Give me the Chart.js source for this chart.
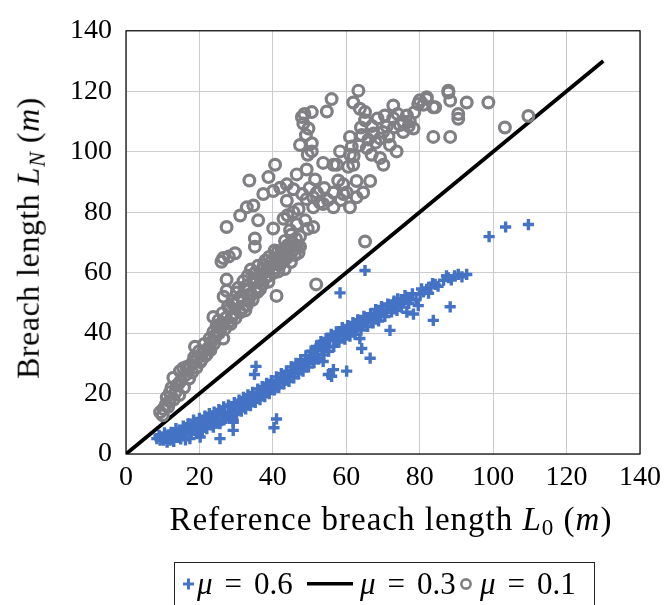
<!DOCTYPE html>
<html>
<head>
<meta charset="utf-8">
<script src="https://cdn.jsdelivr.net/npm/chart.js@4.4.1/dist/chart.umd.min.js"></script>
<style>
  body { margin: 0; width: 670px; height: 605px; overflow: hidden; background: #fff; font-family: "Liberation Serif", serif; color: #000; }
  #wrap { position: relative; width: 670px; height: 605px; }
  #chart { position: absolute; left: 0; top: 0; }
  .ytitle { position: absolute; left: 30px; top: 238px; transform: translate(-50%, -50%) rotate(-90deg); white-space: nowrap; font-size: 32px; letter-spacing: 0.5px; }
  .xtitle { position: absolute; left: 391px; top: 521px; transform: translate(-50%, -50%); white-space: nowrap; font-size: 33px; letter-spacing: 1px; }
  .ytitle sub, .xtitle sub { font-size: 0.7em; vertical-align: -0.25em; }
  .legend { position: absolute; left: 174px; top: 562px; width: 421px; height: 70px; border: 1.3px solid #222; box-sizing: border-box; }
  .legend .item { position: absolute; top: 21px; transform: translateY(-50%); white-space: nowrap; font-size: 31px; }
  .legend .eq { margin: 0 12px; }
  .legend svg { position: absolute; top: 21px; transform: translateY(-50%); }
</style>
</head>
<body>
<div id="wrap">
  <canvas id="chart" width="670" height="605"></canvas>
  <div class="ytitle">Breach length <i>L</i><sub><i>N</i></sub> (<i>m</i>)</div>
  <div class="xtitle">Reference breach length <i>L</i><sub>0</sub> (<i>m</i>)</div>
  <div class="legend">
    <svg style="left:8px" width="12" height="12"><rect x="0" y="4.5" width="11" height="3" fill="#4472c4"/><rect x="4" y="0.5" width="3" height="11" fill="#4472c4"/></svg>
    <span class="item" style="left:22px"><i>μ</i><span class="eq">=</span>0.6</span>
    <svg style="left:132px" width="46" height="6"><rect x="0" y="1" width="46" height="3.5" fill="#000"/></svg>
    <span class="item" style="left:185px"><i>μ</i><span class="eq">=</span>0.3</span>
    <svg style="left:284px" width="14" height="14"><circle cx="7" cy="7" r="4.6" fill="none" stroke="#808084" stroke-width="2.6"/></svg>
    <span class="item" style="left:305px"><i>μ</i><span class="eq">=</span>0.1</span>
  </div>
</div>
<script>
// axis ticks (both axes)
const tickValues = [0, 20, 40, 60, 80, 100, 120, 140];

// mu = 0.3 reference line (1:1)
const lineX = [0, 130];
const lineY = [0, 130];

// mu = 0.1 (grey circles), [L0, LN]
const mu01Points = [
  [9.3,13.8],[10.2,14.9],[10.8,16.2],[11.1,18.7],[11.8,17.5],[12.4,21.9],[12.9,25.2],[13.5,20.5],[14.2,23.1],[14.7,27.4],
  [15.6,28.4],[16.1,26.0],[16.8,27.9],[17.5,29.3],[18.3,30.6],[18.8,35.5],[19.5,31.8],[20.2,30.4],[21.0,33.9],[21.6,32.5],
  [22.4,35.0],[23.3,37.1],[23.8,40.4],[24.3,38.6],[24.7,42.5],[23.8,45.3],[25.4,40.1],[26.5,38.2],[26.0,43.0],[27.0,41.5],
  [27.9,43.6],[28.3,48.0],[28.8,45.2],[29.5,46.5],[30.2,53.4],[31.1,46.9],[31.8,48.3],[32.9,49.1],[33.4,50.6],[33.8,52.3],
  [34.5,51.0],[35.1,56.7],[35.1,59.9],[35.8,53.6],[36.5,54.5],[37.2,56.1],[38.3,58.8],[38.8,57.0],[39.2,62.1],[40.1,59.9],
  [40.6,61.5],[41.0,52.3],[41.5,60.4],[42.0,62.6],[42.6,63.8],[43.2,61.2],[43.8,64.9],[44.3,66.3],[44.9,63.5],[45.5,67.4],
  [46.0,65.8],[46.6,68.9],[47.4,68.6],[45.2,70.1],[44.0,69.0],[42.9,65.4],[41.3,66.8],[27.4,54.0],[27.4,57.7],[26.6,52.0],
  [29.0,50.8],[30.6,55.0],[32.0,57.2],[33.2,59.0],[34.0,61.0],[36.0,62.3],[37.0,60.8],[38.0,64.0],[39.0,65.2],[40.5,67.3],
  [29.7,66.4],[26.5,64.8],[26.0,63.6],[28.0,65.3],[35.1,68.6],[35.1,71.3],[27.4,75.1],[51.8,56.1],[65.1,70.3],
  [10.0,12.8],[11.5,15.6],[12.0,20.4],[13.0,18.0],[13.8,22.6],[14.5,19.5],[15.0,24.3],[15.8,22.0],[16.5,28.8],[17.2,25.0],
  [18.0,27.0],[18.6,32.0],[19.2,28.6],[19.9,34.0],[20.6,31.2],[21.3,36.4],[22.0,33.0],[22.8,38.2],[23.0,34.4],[24.0,36.5],
  [24.6,39.8],[25.2,44.2],[25.8,41.6],[26.3,46.6],[27.2,45.0],[27.8,48.8],[28.5,43.0],[29.2,49.6],[29.8,45.0],[30.5,51.0],
  [31.4,52.2],[32.3,54.6],[32.5,47.5],[33.0,55.8],[34.0,53.0],[34.8,57.8],[35.5,55.0],[36.2,59.0],[36.8,57.2],[37.5,62.5],
  [38.2,60.5],[39.0,59.0],[39.6,63.6],[40.3,62.8],[41.0,64.0],[41.8,65.5],[42.4,67.3],[43.0,64.2],[43.6,68.0],[44.6,67.8],
  [45.8,69.0],[46.3,71.2],[47.0,66.6],[43.3,70.5],[45.0,72.5],
  [31.1,78.9],[32.9,81.6],[34.7,82.2],[36.0,77.3],[37.4,86.0],[40.1,87.0],[42.0,88.1],[33.6,90.5],[38.8,91.6],[40.6,95.7],
  [40.1,74.6],[42.9,77.8],[44.7,74.0],[45.6,80.0],[43.8,83.8],[43.8,89.2],[45.6,87.6],[46.5,92.5],[47.4,102.2],[47.9,111.5],
  [48.3,109.3],[49.7,107.7],[50.6,113.1],[50.6,102.8],[50.6,100.1],[49.2,94.1],[49.2,84.3],[48.8,77.3],[51.0,75.1],[47.4,72.0],
  [49.5,74.5],[46.5,76.0],[51.5,90.8],[51.0,81.6],[52.8,83.2],[53.7,96.3],[53.7,82.7],[51.0,84.9],[54.7,113.3],[56.0,117.4],
  [56.5,95.7],[56.5,86.5],[56.5,81.6],[57.4,95.7],[58.3,100.1],[59.2,89.2],[59.2,86.0],[60.1,86.5],[61.0,104.9],[61.5,101.7],
  [61.0,99.0],[61.0,81.6],[61.9,116.3],[61.9,95.7],[62.8,84.9],[62.8,90.3],[63.3,120.2],[63.7,114.2],[64.2,105.5],[64.6,86.5],
  [65.1,113.1],[65.1,110.4],[65.6,101.2],[66.5,90.3],[66.9,99.0],[67.4,106.0],[68.0,103.0],[69.2,104.4],[69.2,97.9],[70.1,95.7],
  [71.0,108.3],[71.9,102.2],[72.8,111.1],[72.8,115.3],[73.7,100.1],[74.6,108.8],[75.5,106.5],[76.5,112.0],[77.3,110.0],[78.3,107.7],
  [79.6,115.8],[81.9,118.0],[81.9,117.4],[83.7,114.7],[84.2,114.7],[83.7,104.9],[87.8,120.2],[87.8,119.6],[88.3,116.9],[88.3,104.9],
  [90.5,112.5],[90.5,110.9],[92.8,116.3],[98.7,116.3],[103.2,108.0],[109.6,111.8],
  [44.0,79.0],[47.0,81.0],[48.0,86.0],[50.0,88.0],[52.0,86.5],[54.0,88.0],[55.0,84.0],[57.8,90.5],[58.5,84.0],[60.5,95.0],
  [62.0,98.5],[63.5,102.0],[64.0,108.0],[66.0,104.0],[67.0,108.5],[68.5,111.0],[70.0,106.5],[70.5,112.0],[71.5,105.0],[73.0,108.0],
  [74.0,112.5],[75.5,110.0],[77.0,108.5],[78.5,113.0],[80.0,117.0],[81.0,115.5],[48.6,112.5],[49.0,105.5],[49.5,99.0]
];

// mu = 0.6 (blue crosses), [L0, LN]
const mu06Points = [
  [8.4,5.1],[9.3,4.6],[10.2,4.6],[10.8,5.8],[11.5,6.3],[12.0,4.6],[12.6,5.5],[13.2,7.0],[13.8,5.6],[14.3,6.8],
  [14.7,7.8],[15.3,6.2],[15.9,8.0],[16.5,7.3],[17.4,5.1],[17.4,8.6],[18.0,9.0],[18.6,8.1],[19.3,7.8],[19.3,6.7],
  [19.8,10.0],[20.2,5.6],[20.5,9.4],[21.1,8.9],[21.7,10.6],[22.3,10.2],[22.9,11.1],[23.5,12.0],[23.8,8.9],[24.2,11.4],
  [25.0,12.6],[25.6,5.1],[25.6,10.0],[26.2,12.9],[26.8,13.7],[27.5,12.6],[28.3,12.7],[28.9,14.6],[29.2,11.1],[29.2,7.8],
  [29.2,10.5],[29.8,15.2],[30.4,14.3],[31.1,15.4],[31.7,16.6],[32.3,15.8],[32.9,17.0],[33.5,18.0],[34.2,17.3],[34.8,18.9],
  [35.6,18.7],[36.2,19.8],[36.8,19.2],[37.4,20.8],[38.0,21.5],[38.6,20.6],[39.2,22.3],[40.1,23.0],[40.6,21.9],[41.2,24.1],
  [41.8,23.2],[42.9,25.2],[43.5,24.4],[44.1,26.3],[44.8,25.6],[45.4,27.5],[46.0,26.8],[46.5,28.4],[47.1,29.2],[47.7,28.0],
  [48.3,29.5],[48.9,31.0],[49.5,30.2],[50.1,32.4],[50.6,31.3],[51.0,33.9],[51.6,32.8],[52.2,35.0],[52.8,36.0],[53.4,34.1],
  [53.7,30.6],[54.2,36.5],[54.8,35.4],[55.1,26.3],[55.5,37.6],[56.1,38.8],[56.5,27.9],[56.0,25.7],[57.0,38.1],[57.4,37.7],
  [57.9,39.5],[58.6,40.4],[59.2,39.2],[60.1,39.8],[60.1,27.4],[60.7,41.2],[61.3,42.0],[62.0,40.8],[62.8,41.4],[63.4,43.2],
  [63.7,38.2],[64.2,34.9],[64.5,42.6],[65.1,44.0],[65.6,43.6],[66.2,45.1],[66.5,31.7],[66.9,44.4],[67.6,46.0],[68.3,44.7],
  [69.0,46.8],[69.2,45.8],[70.0,47.5],[71.0,46.9],[71.9,40.9],[72.0,48.6],[72.8,48.0],[73.6,49.4],[74.6,50.1],[75.5,50.7],
  [76.5,51.8],[76.5,46.9],[77.4,51.2],[78.3,46.3],[79.6,49.1],[80.1,52.9],[81.0,53.6],[81.9,54.5],[83.0,55.2],[83.7,44.2],
  [84.2,56.1],[85.0,55.5],[87.8,58.3],[88.3,48.7],[88.6,57.6],[89.5,58.9],[90.5,59.4],[91.5,58.6],[92.8,59.4],[35.4,29.0],
  [35.0,26.3],[40.3,8.7],[41.0,11.6],[58.3,53.3],[65.1,60.7],[98.9,71.9],[103.4,75.1],[109.6,75.9],
  [9.0,6.2],[10.5,7.0],[11.2,3.9],[12.3,7.2],[13.0,4.2],[13.6,8.4],[14.9,5.0],[15.6,9.2],[16.2,4.7],[16.9,10.0],
  [17.8,6.5],[18.4,11.2],[19.0,9.0],[20.0,11.8],[20.8,7.6],[21.5,12.5],[22.0,8.4],[22.7,13.4],[23.2,9.6],[24.0,13.9],
  [24.6,10.3],[25.3,14.7],[26.0,11.0],[26.6,15.6],[27.2,11.8],[27.9,16.2],[28.6,13.0],[29.5,17.0],[30.1,13.2],[30.8,17.8],
  [31.4,14.2],[32.0,18.7],[32.6,14.9],[33.2,19.6],[33.9,16.0],[34.5,20.4],[35.2,17.1],[35.9,21.5],[36.5,18.0],[37.1,22.3],
  [37.8,19.0],[38.3,23.4],[39.0,20.0],[39.6,24.3],[40.4,21.2],[41.0,25.5],[41.6,22.0],[42.3,26.6],[43.0,23.2],[43.7,27.4],
  [44.4,24.0],[45.0,28.8],[45.7,25.2],[46.3,30.0],[47.0,26.5],[47.6,31.2],[48.2,27.4],[49.0,32.5],[49.7,28.8],[50.4,34.0],
  [51.2,30.2],[51.9,35.6],[52.5,31.5],[53.1,37.2],[53.9,32.8],[54.5,38.2],[55.2,34.0],[55.9,39.6],[56.6,35.6],[57.3,40.4],
  [58.0,37.0],[58.9,41.8],[59.6,38.0],[60.4,42.5],[61.0,39.0],[61.8,43.5],[62.4,39.6],[63.1,44.4],[64.0,41.0],[64.8,45.5],
  [65.8,42.2],[66.6,46.4],[67.3,43.4],[68.0,47.8],[68.8,44.0],[69.6,48.8],[70.5,45.5],[71.3,49.6],[72.3,47.0],[73.0,50.6],
  [73.8,47.5],[74.0,51.3],[75.0,48.6],[76.0,52.4],[77.0,49.8],[78.0,53.0],[79.0,51.0],[80.5,54.6],[82.4,53.2],[83.5,56.4],
  [86.5,57.5],[87.3,58.9]
];

const toXY = pts => pts.map(p => ({ x: p[0], y: p[1] }));

const framePlugin = {
    id: 'frame',
    afterDraw(chart) {
        const a = chart.chartArea;
        const ctx = chart.ctx;
        ctx.save();
        ctx.strokeStyle = '#000';
        ctx.lineWidth = 1.2;
        ctx.strokeRect(a.left, a.top, a.right - a.left, a.bottom - a.top);
        ctx.restore();
    }
};

function axis(isX) {
    return {
        type: 'linear',
        min: 0,
        max: 140,
        afterBuildTicks: scale => { scale.ticks = tickValues.map(v => ({ value: v })); },
        afterFit: scale => {
            if (isX) scale.height = 40; else scale.width = 126;
        },
        grid: { color: '#cccccc', lineWidth: 1, drawTicks: false },
        border: { display: false },
        ticks: {
            color: '#000',
            padding: isX ? 7 : 14,
            font: { family: 'Liberation Serif', size: 28 },
            maxRotation: 0
        }
    };
}

new Chart(document.getElementById('chart'), {
    type: 'scatter',
    data: {
        datasets: [
            {
                label: 'μ = 0.1',
                data: toXY(mu01Points),
                pointStyle: 'circle',
                pointRadius: 5.4,
                pointBorderWidth: 3.2,
                borderColor: '#808084',
                backgroundColor: 'rgba(0,0,0,0)',
                order: 1
            },
            {
                label: 'μ = 0.3',
                type: 'line',
                data: lineX.map((x, i) => ({ x: x, y: lineY[i] })),
                borderColor: '#000',
                borderWidth: 3.8,
                pointRadius: 0,
                fill: false,
                order: 2
            },
            {
                label: 'μ = 0.6',
                data: toXY(mu06Points),
                pointStyle: 'cross',
                pointRadius: 5.6,
                pointBorderWidth: 3.4,
                borderColor: '#4472c4',
                backgroundColor: '#4472c4',
                order: 3
            }
        ]
    },
    options: {
        responsive: false,
        animation: false,
        layout: { padding: { top: 24, right: 30, bottom: 111, left: 0 } },
        plugins: { legend: { display: false }, tooltip: { enabled: false } },
        scales: { x: axis(true), y: axis(false) }
    },
    plugins: [framePlugin]
});
</script>
</body>
</html>
